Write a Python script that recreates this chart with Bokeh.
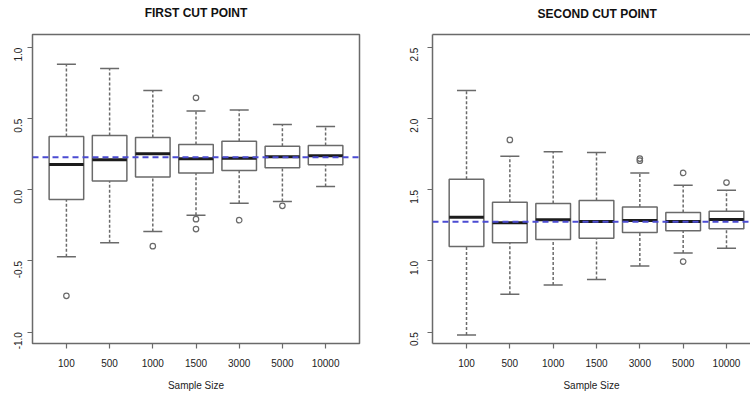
import math
from bokeh.plotting import figure
from bokeh.models import (Range1d, FixedTicker, PrintfTickFormatter, Span,
                          LinearAxis, Title, ColumnDataSource)
from bokeh.layouts import row
from bokeh.embed import file_html
from bokeh.resources import INLINE

# ---------------- data ----------------
categories = ["100", "500", "1000", "1500", "3000", "5000", "10000"]

first_lo  = [-0.471, -0.372, -0.293, -0.178, -0.094, -0.082, 0.023]
first_q1  = [-0.068, 0.063, 0.091, 0.119, 0.136, 0.155, 0.176]
first_med = [0.178, 0.211, 0.253, 0.218, 0.223, 0.232, 0.239]
first_q3  = [0.375, 0.382, 0.368, 0.318, 0.342, 0.307, 0.311]
first_hi  = [0.883, 0.853, 0.698, 0.555, 0.562, 0.459, 0.445]
first_out_cat = ["100", "1000", "1500", "1500", "1500", "3000", "5000"]
first_out_val = [-0.745, -0.396, 0.647, -0.206, -0.276, -0.213, -0.112]
first_ref = 0.23

second_lo  = [0.479, 0.767, 0.832, 0.870, 0.964, 1.057, 1.090]
second_q1  = [1.102, 1.128, 1.151, 1.160, 1.200, 1.212, 1.226]
second_med = [1.308, 1.268, 1.289, 1.277, 1.284, 1.277, 1.291]
second_q3  = [1.575, 1.413, 1.404, 1.425, 1.380, 1.341, 1.350]
second_hi  = [2.198, 1.737, 1.767, 1.762, 1.619, 1.533, 1.498]
second_out_cat = ["500", "3000", "3000", "5000", "5000", "10000"]
second_out_val = [1.851, 1.705, 1.720, 1.619, 0.996, 1.551]
second_ref = 1.275

first_yticks = [-1.0, -0.5, 0.0, 0.5, 1.0]
second_yticks = [0.5, 1.0, 1.5, 2.0, 2.5]

FONT = "Liberation Sans"
BOX_COL = "#6a6a6a"
TXT_COL = "#222222"
HALF_BOX = 0.4
HALF_CAP = 0.22
FULL_X = (0.215, 7.785)   # R's full x limits for 7 boxes


def panel(title, lo, q1, med, q3, hi, out_cat, out_val, ref, yticks, yrange,
          xrange, width, height, border_left, border_right, full_outline,
          ylab_standoff, title_left_offset=None):
    p = figure(width=width, height=height, output_backend="svg",
               toolbar_location=None, title_location=None,
               x_range=Range1d(*xrange), y_range=Range1d(*yrange),
               min_border_left=border_left, min_border_right=border_right,
               min_border_top=34, min_border_bottom=51)
    p.background_fill_color = "white"
    p.border_fill_color = "white"
    p.grid.visible = False

    xs = [i + 1 for i in range(len(categories))]
    src = ColumnDataSource(dict(
        x=xs, left=[x - HALF_BOX for x in xs], right=[x + HALF_BOX for x in xs],
        cl=[x - HALF_CAP for x in xs], cr=[x + HALF_CAP for x in xs],
        lo=lo, q1=q1, med=med, q3=q3, hi=hi))

    # whiskers (dotted)
    p.segment(x0="x", y0="q3", x1="x", y1="hi", source=src, line_color=BOX_COL,
              line_width=1.5, line_dash="3 2")
    p.segment(x0="x", y0="lo", x1="x", y1="q1", source=src, line_color=BOX_COL,
              line_width=1.5, line_dash="3 2")
    # staples
    p.segment(x0="cl", y0="hi", x1="cr", y1="hi", source=src, line_color=BOX_COL,
              line_width=1.5)
    p.segment(x0="cl", y0="lo", x1="cr", y1="lo", source=src, line_color=BOX_COL,
              line_width=1.5)
    # boxes
    p.quad(left="left", right="right", bottom="q1", top="q3", source=src,
           fill_color="white", line_color=BOX_COL, line_width=1.5)
    # medians
    p.segment(x0="left", y0="med", x1="right", y1="med", source=src,
              line_color="#1c1c1c", line_width=3)
    # outliers
    ox = [categories.index(c) + 1 for c in out_cat]
    p.scatter(ox, out_val, marker="circle", size=5.5, fill_color=None,
              line_color=BOX_COL, line_width=1.2)

    # reference line
    p.add_layout(Span(location=ref, dimension="width", line_color="#4b4bd2",
                      line_width=2, line_dash="6 4"))

    # axes
    xa = p.xaxis[0]
    xa.ticker = FixedTicker(ticks=xs)
    xa.major_label_overrides = {x: c for x, c in zip(xs, categories)}
    ya = p.yaxis[0]
    ya.ticker = FixedTicker(ticks=yticks)
    ya.formatter = PrintfTickFormatter(format="%.1f")
    ya.major_label_orientation = math.pi / 2
    for ax in (xa, ya):
        ax.minor_tick_line_color = None
        ax.major_tick_in = 0
        ax.major_tick_out = 5
        ax.major_tick_line_color = BOX_COL
        ax.major_tick_line_width = 1.2
        ax.major_label_text_font = FONT
        ax.major_label_text_font_size = "10px"
        ax.major_label_text_color = TXT_COL
    xa.major_label_standoff = 10
    ya.major_label_standoff = ylab_standoff

    xa.axis_label = "Sample Size"
    xa.axis_label_text_font = FONT
    xa.axis_label_text_font_size = "10px"
    xa.axis_label_text_font_style = "normal"
    xa.axis_label_text_color = TXT_COL
    xa.axis_label_standoff = 10

    if title_left_offset is None:
        top = LinearAxis(ticker=FixedTicker(ticks=[]),
                         major_label_text_font_size="0px", major_label_standoff=0,
                         major_tick_in=0, major_tick_out=0,
                         major_tick_line_color=None, minor_tick_line_color=None,
                         axis_label=title, axis_label_text_font=FONT,
                         axis_label_text_font_size="12px",
                         axis_label_text_font_style="bold",
                         axis_label_text_color="#111111",
                         axis_label_standoff=15)
        p.add_layout(top, "above")
    else:
        # invisible ticks give the top axis some height, pushing the title up
        top = LinearAxis(ticker=FixedTicker(ticks=xs),
                         major_label_overrides={x: "" for x in xs},
                         major_label_text_font_size="1px", major_label_standoff=0,
                         major_tick_in=0, major_tick_out=14,
                         major_tick_line_color=None, minor_tick_line_color=None)
        p.add_layout(top, "above")
        p.add_layout(Title(text=title, align="left", offset=title_left_offset,
                           standoff=0, text_font=FONT, text_font_size="12px",
                           text_font_style="bold", text_color="#111111"), "above")

    if full_outline:
        p.outline_line_color = BOX_COL
        p.outline_line_width = 1.5
        p.outline_line_alpha = 1
        xa.axis_line_color = None
        ya.axis_line_color = None
        top.axis_line_color = None
    else:
        p.outline_line_color = None
        for ax in (xa, ya, top):
            ax.axis_line_color = BOX_COL
            ax.axis_line_width = 1.5
    return p


p1 = panel("FIRST CUT POINT", first_lo, first_q1, first_med, first_q3, first_hi,
           first_out_cat, first_out_val, first_ref, first_yticks,
           (-1.08, 1.092), FULL_X, 400, 394, 32, 41, True, 9)
p2 = panel("SECOND CUT POINT", second_lo, second_q1, second_med, second_q3, second_hi,
           second_out_cat, second_out_val, second_ref, second_yticks,
           (0.42, 2.592), (0.215, 7.554), 350, 394, 32, 0, False, 13, 105)

layout = row(p1, p2)
open("out.html", "w").write(file_html(layout, INLINE))
